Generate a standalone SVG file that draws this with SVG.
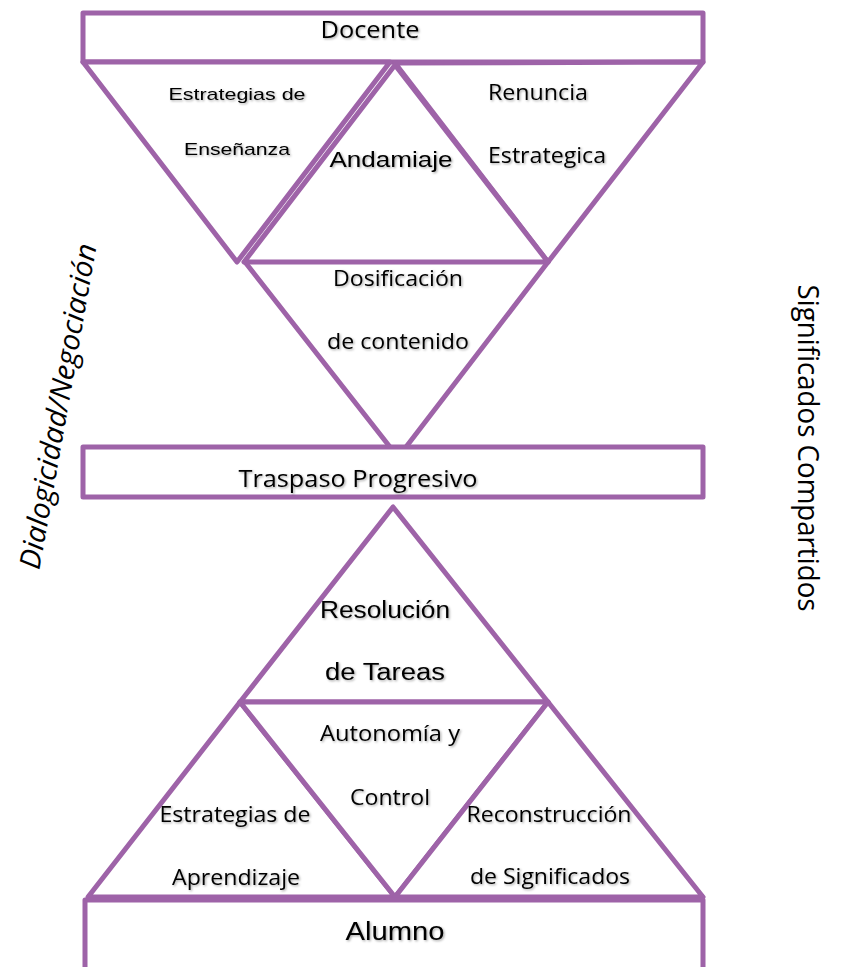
<svg xmlns="http://www.w3.org/2000/svg" width="841" height="967" viewBox="0 0 841 967">
<defs>
<filter id="sh" x="-10%" y="-30%" width="120%" height="160%">
<feDropShadow dx="1.2" dy="1.2" stdDeviation="0.8" flood-color="#000" flood-opacity="0.35"/>
</filter>
<style>
.s{fill:#fff;stroke:#9E63A8;stroke-width:5;stroke-linejoin:round;stroke-linecap:round}
.l{fill:none;stroke:#9E63A8;stroke-width:5;stroke-linecap:round}
.a{font-family:"Liberation Sans",Arial,sans-serif;fill:#000;text-anchor:middle;filter:url(#sh)}
.c{font-family:"Open Sans","Noto Sans",sans-serif;fill:#000;text-anchor:middle;filter:url(#sh)}
.side{font-family:"Open Sans","Noto Sans",sans-serif;fill:#000;text-anchor:middle;font-size:29px}
</style>
</defs>
<rect width="841" height="967" fill="#fff"/>
<g id="connectors"></g>
<g id="docente">
<rect class="s" x="83" y="13" width="620" height="49"/>
<text class="c" x="370" y="38" font-size="23" textLength="99" lengthAdjust="spacingAndGlyphs">Docente</text>
</g>
<g id="estrategias-ensenanza">
<polygon class="s" points="83,62 390,62 237,262"/>
<text class="a" x="237" y="100" font-size="17" textLength="137" lengthAdjust="spacingAndGlyphs">Estrategias de</text>
<text class="a" x="237" y="155" font-size="17" textLength="106" lengthAdjust="spacingAndGlyphs">Enseñanza</text>
</g>
<g id="renuncia">
<polygon class="s" points="395,63 703,62 548,262"/>
<text class="c" x="538" y="100" font-size="21" textLength="100" lengthAdjust="spacingAndGlyphs">Renuncia</text>
<text class="c" x="547" y="163" font-size="21" textLength="118" lengthAdjust="spacingAndGlyphs">Estrategica</text>
</g>
<g id="dosificacion">
<line class="l" x1="245" y1="262" x2="390" y2="447"/>
<line class="l" x1="548" y1="262" x2="406" y2="447"/>
<text class="c" x="398" y="286" font-size="21" textLength="130" lengthAdjust="spacingAndGlyphs">Dosificación</text>
<text class="c" x="398" y="349" font-size="21" textLength="142" lengthAdjust="spacingAndGlyphs">de contenido</text>
</g>
<g id="andamiaje">
<polygon class="s" points="395,65 244,262 548,262"/>
<text class="a" x="391" y="167" font-size="22" textLength="123" lengthAdjust="spacingAndGlyphs">Andamiaje</text>
</g>
<g id="traspaso">
<rect class="s" x="83" y="447" width="620" height="50"/>
<text class="c" x="358" y="487" font-size="24" textLength="239" lengthAdjust="spacingAndGlyphs">Traspaso Progresivo</text>
</g>
<g id="resolucion">
<polygon class="s" points="393,507 240,702 548,702"/>
<text class="a" x="385" y="618" font-size="23" textLength="130" lengthAdjust="spacingAndGlyphs">Resolución</text>
<text class="a" x="385" y="680" font-size="23" textLength="120" lengthAdjust="spacingAndGlyphs">de Tareas</text>
</g>
<g id="estrategias-aprendizaje">
<polygon class="s" points="88,897 240,702 395,897"/>
<text class="c" x="235" y="822" font-size="21" textLength="151" lengthAdjust="spacingAndGlyphs">Estrategias de</text>
<text class="c" x="236" y="885" font-size="21" textLength="128" lengthAdjust="spacingAndGlyphs">Aprendizaje</text>
</g>
<g id="autonomia">
<polygon class="s" points="240,702 548,702 395,897"/>
<text class="c" x="390" y="741" font-size="21" textLength="140" lengthAdjust="spacingAndGlyphs">Autonomía y</text>
<text class="c" x="390" y="805" font-size="21" textLength="80" lengthAdjust="spacingAndGlyphs">Control</text>
</g>
<g id="reconstruccion">
<polygon class="s" points="548,702 703,897 395,897"/>
<text class="c" x="549" y="822" font-size="21" textLength="165" lengthAdjust="spacingAndGlyphs">Reconstrucción</text>
<text class="c" x="550" y="884" font-size="21" textLength="160" lengthAdjust="spacingAndGlyphs">de Significados</text>
</g>
<g id="alumno">
<rect class="s" x="85" y="900" width="618" height="80"/>
<text class="a" x="395" y="940" font-size="26" textLength="99" lengthAdjust="spacingAndGlyphs">Alumno</text>
</g>
<g id="dialogicidad">
<text class="side" font-style="italic" transform="translate(68,408) rotate(-80)" textLength="330" lengthAdjust="spacingAndGlyphs">Dialogicidad/Negociación</text>
</g>
<g id="significados">
<text class="side" transform="translate(798,448) rotate(90)" textLength="327" lengthAdjust="spacingAndGlyphs">Significados Compartidos</text>
</g>
</svg>
